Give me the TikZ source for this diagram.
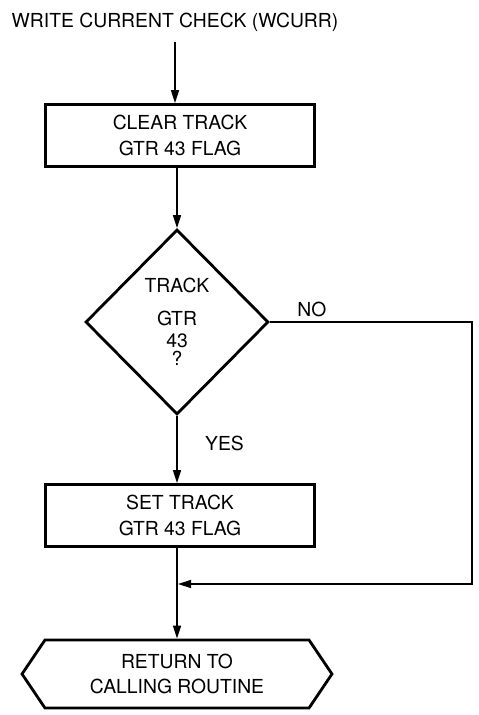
\documentclass[tikz,border=0pt]{standalone}
\usepackage{fontspec}
\setmainfont{TeX Gyre Heros}
\usetikzlibrary{arrows.meta, positioning, shapes.geometric, shapes.symbols}

\tikzset{
  procbox/.style={draw, line width=1.6pt, minimum width=5.38cm,
    minimum height=1.24cm, align=center},
  decision/.style={diamond, draw, line width=1.6pt, minimum width=3.66cm,
    minimum height=3.7cm, inner sep=0pt, align=center},
  exitbox/.style={signal, signal to=east and west, signal pointer angle=112,
    draw, line width=1.6pt, minimum width=6.2cm, minimum height=1.36cm,
    align=center},
  flow/.style={->, line width=0.8pt},
}

\begin{document}
\begin{tikzpicture}[x=0.02cm, y=-0.02cm,
  >={Triangle[length=2.6mm, width=1.6mm]},
  font=\fontsize{11}{14.5}\selectfont]

\useasboundingbox (0,0) rectangle (478,715);

% Entry title
\node[inner sep=6pt] (title) at (175,22) {WRITE CURRENT CHECK (WCURR)};

% Boxes
\node[procbox] (clear) at (180,135.5) {CLEAR TRACK\\GTR 43 FLAG};
\node[decision] (test) at (177,322)
  {TRACK\\[4pt]GTR\\[-2pt]43\\[-4pt]?};
\node[procbox] (set) at (180,515.5) {SET TRACK\\GTR 43 FLAG};
\node[exitbox] (return) at (177,674) {RETURN TO\\CALLING ROUTINE};

% Branch labels
\node[anchor=base west, inner sep=0pt] (nolbl) at (297,317) {NO};
\node[anchor=west] (yeslbl) at (199,443) {YES};

% Helper points for the NO path
\coordinate (corner) at (472,0);
\coordinate (merge) at (178,584);

% Connectors
\draw[flow] (title.south) -- (title.south |- clear.north);
\draw[flow] (clear.south -| test.north) -- (test.north);
\draw[flow] (test.south) -- (test.south |- set.north);
\draw[flow] (set.south -| return.north) -- (return.north);
\draw[flow] (test.east) -- (test.east -| corner) |- (merge);

\end{tikzpicture}
\end{document}
